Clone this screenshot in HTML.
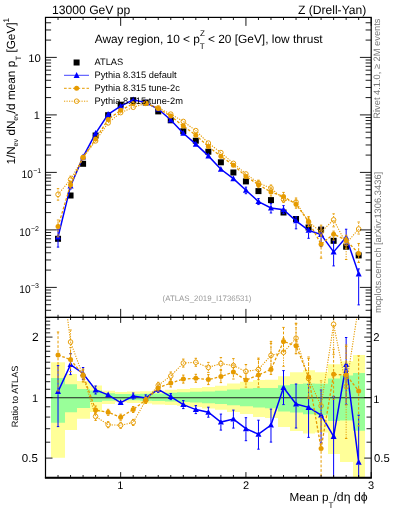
<!DOCTYPE html><html><head><meta charset="utf-8"><style>html,body{margin:0;padding:0;background:#fff;}svg{display:block;will-change:transform;}text{font-family:"Liberation Sans",sans-serif;text-rendering:geometricPrecision;}</style></head><body>
<svg width="393" height="512" viewBox="0 0 393 512">
<defs><clipPath id="cm"><rect x="45.5" y="17.4" width="325.7" height="300"/></clipPath><clipPath id="cr"><rect x="45.5" y="317.4" width="325.7" height="160.2"/></clipPath></defs>
<g clip-path="url(#cr)">
<path d="M51 362.3H65V374H77V381H90V385.5H102V390.7H115V391.9H127V391.6H140V391.2H152V390.7H165V389.7H177V389H190V388.1H202V387H215V385.8H227V383.6H240V381.7H253V380H265V379.8H278V376.3H290V372.3H303V370.3H315V372.2H328V364.3H340V361.3H353V355.1H365V477.6H353V462H340V454H328V432.5H315V433.5H303V431H290V427H278V418H265V417H253V414H240V412.1H227V409.8H215V408.6H202V407H190V405.7H177V404.9H165V404.5H152V403.6H140V403.1H127V402.3H115V404H102V412H90V418.7H77V430H65V457.7H51Z" fill="#ffff99"/>
<path d="M51 378H65V384.2H77V388.9H90V390.4H102V393.2H115V394H127V394H140V393.7H152V393.6H165V392.7H177V392.3H190V391.8H202V391.4H215V390.7H227V389.5H240V388.5H253V388H265V388H278V385.2H290V384H303V383.5H315V383.7H328V378.6H340V375.5H353V373H365V430.7H353V420.5H340V421H328V415.2H315V414.3H303V412.5H290V411.5H278V408.2H265V407.4H253V406.2H240V405.2H227V404H215V403.2H202V402.4H190V402.1H177V401.6H165V401H152V400.7H140V400.2H127V399.8H115V400.7H102V401.9H90V408H77V412.2H65V422.8H51Z" fill="#99ff99"/>
<line x1="45.5" y1="397.7" x2="371.2" y2="397.7" stroke="#222" stroke-width="1.1"/>
</g>
<g clip-path="url(#cr)">
<path d="M58.03 389V365.6" stroke="#0000ff" stroke-width="1" />
<path d="M58.03 394.2V426.6" stroke="#0000ff" stroke-width="1" />
<path d="M56.83 365.6H59.23" stroke="#0000ff" stroke-width="1"/>
<path d="M56.83 426.6H59.23" stroke="#0000ff" stroke-width="1"/>
<path d="M70.55 362V353.6" stroke="#0000ff" stroke-width="1" />
<path d="M70.55 367.2V374.6" stroke="#0000ff" stroke-width="1" />
<path d="M69.35 353.6H71.75" stroke="#0000ff" stroke-width="1"/>
<path d="M69.35 374.6H71.75" stroke="#0000ff" stroke-width="1"/>
<path d="M83.08 370.9V367.5" stroke="#0000ff" stroke-width="1" />
<path d="M83.08 376.1V379.5" stroke="#0000ff" stroke-width="1" />
<path d="M81.88 367.5H84.28" stroke="#0000ff" stroke-width="1"/>
<path d="M81.88 379.5H84.28" stroke="#0000ff" stroke-width="1"/>
<path d="M95.61 387.4V386" stroke="#0000ff" stroke-width="1" />
<path d="M95.61 392.6V394" stroke="#0000ff" stroke-width="1" />
<path d="M94.41 386H96.81" stroke="#0000ff" stroke-width="1"/>
<path d="M94.41 394H96.81" stroke="#0000ff" stroke-width="1"/>
<path d="M133.19 393.4V393" stroke="#0000ff" stroke-width="1" />
<path d="M133.19 398.6V399" stroke="#0000ff" stroke-width="1" />
<path d="M131.99 393H134.39" stroke="#0000ff" stroke-width="1"/>
<path d="M131.99 399H134.39" stroke="#0000ff" stroke-width="1"/>
<path d="M145.72 395.3V394.9" stroke="#0000ff" stroke-width="1" />
<path d="M145.72 400.5V400.9" stroke="#0000ff" stroke-width="1" />
<path d="M144.52 394.9H146.92" stroke="#0000ff" stroke-width="1"/>
<path d="M144.52 400.9H146.92" stroke="#0000ff" stroke-width="1"/>
<path d="M158.24 386.7V386.3" stroke="#0000ff" stroke-width="1" />
<path d="M158.24 391.9V392.3" stroke="#0000ff" stroke-width="1" />
<path d="M157.04 386.3H159.44" stroke="#0000ff" stroke-width="1"/>
<path d="M157.04 392.3H159.44" stroke="#0000ff" stroke-width="1"/>
<path d="M170.77 394V393.6" stroke="#0000ff" stroke-width="1" />
<path d="M170.77 399.2V399.6" stroke="#0000ff" stroke-width="1" />
<path d="M169.57 393.6H171.97" stroke="#0000ff" stroke-width="1"/>
<path d="M169.57 399.6H171.97" stroke="#0000ff" stroke-width="1"/>
<path d="M183.3 402V400.6" stroke="#0000ff" stroke-width="1" />
<path d="M183.3 407.2V408.6" stroke="#0000ff" stroke-width="1" />
<path d="M182.1 400.6H184.5" stroke="#0000ff" stroke-width="1"/>
<path d="M182.1 408.6H184.5" stroke="#0000ff" stroke-width="1"/>
<path d="M195.82 407V405.6" stroke="#0000ff" stroke-width="1" />
<path d="M195.82 412.2V413.6" stroke="#0000ff" stroke-width="1" />
<path d="M194.62 405.6H197.02" stroke="#0000ff" stroke-width="1"/>
<path d="M194.62 413.6H197.02" stroke="#0000ff" stroke-width="1"/>
<path d="M208.35 409.6V407.2" stroke="#0000ff" stroke-width="1" />
<path d="M208.35 414.8V417.2" stroke="#0000ff" stroke-width="1" />
<path d="M207.15 407.2H209.55" stroke="#0000ff" stroke-width="1"/>
<path d="M207.15 417.2H209.55" stroke="#0000ff" stroke-width="1"/>
<path d="M220.88 419.5V414.1" stroke="#0000ff" stroke-width="1" />
<path d="M220.88 424.7V430.1" stroke="#0000ff" stroke-width="1" />
<path d="M219.68 414.1H222.08" stroke="#0000ff" stroke-width="1"/>
<path d="M219.68 430.1H222.08" stroke="#0000ff" stroke-width="1"/>
<path d="M233.4 416.5V410.1" stroke="#0000ff" stroke-width="1" />
<path d="M233.4 421.7V428.1" stroke="#0000ff" stroke-width="1" />
<path d="M232.2 410.1H234.6" stroke="#0000ff" stroke-width="1"/>
<path d="M232.2 428.1H234.6" stroke="#0000ff" stroke-width="1"/>
<path d="M245.93 426.1V417.7" stroke="#0000ff" stroke-width="1" />
<path d="M245.93 431.3V440.7" stroke="#0000ff" stroke-width="1" />
<path d="M244.73 417.7H247.13" stroke="#0000ff" stroke-width="1"/>
<path d="M244.73 440.7H247.13" stroke="#0000ff" stroke-width="1"/>
<path d="M258.46 431.6V420.2" stroke="#0000ff" stroke-width="1" />
<path d="M258.46 436.8V449.2" stroke="#0000ff" stroke-width="1" />
<path d="M257.26 420.2H259.66" stroke="#0000ff" stroke-width="1"/>
<path d="M257.26 449.2H259.66" stroke="#0000ff" stroke-width="1"/>
<path d="M270.98 422.5V409.1" stroke="#0000ff" stroke-width="1" />
<path d="M270.98 427.7V442.1" stroke="#0000ff" stroke-width="1" />
<path d="M269.78 409.1H272.18" stroke="#0000ff" stroke-width="1"/>
<path d="M269.78 442.1H272.18" stroke="#0000ff" stroke-width="1"/>
<path d="M283.51 385V370.6" stroke="#0000ff" stroke-width="1" />
<path d="M283.51 390.2V404.6" stroke="#0000ff" stroke-width="1" />
<path d="M282.31 370.6H284.71" stroke="#0000ff" stroke-width="1"/>
<path d="M282.31 404.6H284.71" stroke="#0000ff" stroke-width="1"/>
<path d="M296.04 401.4V384" stroke="#0000ff" stroke-width="1" />
<path d="M296.04 406.6V428" stroke="#0000ff" stroke-width="1" />
<path d="M294.84 384H297.24" stroke="#0000ff" stroke-width="1"/>
<path d="M294.84 428H297.24" stroke="#0000ff" stroke-width="1"/>
<path d="M308.57 404.8V384.4" stroke="#0000ff" stroke-width="1" />
<path d="M308.57 410V437.4" stroke="#0000ff" stroke-width="1" />
<path d="M307.37 384.4H309.77" stroke="#0000ff" stroke-width="1"/>
<path d="M307.37 437.4H309.77" stroke="#0000ff" stroke-width="1"/>
<path d="M321.09 412.4V390" stroke="#0000ff" stroke-width="1" />
<path d="M321.09 417.6V443" stroke="#0000ff" stroke-width="1" />
<path d="M319.89 390H322.29" stroke="#0000ff" stroke-width="1"/>
<path d="M319.89 443H322.29" stroke="#0000ff" stroke-width="1"/>
<path d="M333.62 433.8V396.4" stroke="#0000ff" stroke-width="1" />
<path d="M333.62 439V496.4" stroke="#0000ff" stroke-width="1" />
<path d="M332.42 396.4H334.82" stroke="#0000ff" stroke-width="1"/>
<path d="M332.42 496.4H334.82" stroke="#0000ff" stroke-width="1"/>
<path d="M346.15 361.9V337.5" stroke="#0000ff" stroke-width="1" />
<path d="M346.15 367.1V404.5" stroke="#0000ff" stroke-width="1" />
<path d="M344.95 337.5H347.35" stroke="#0000ff" stroke-width="1"/>
<path d="M344.95 404.5H347.35" stroke="#0000ff" stroke-width="1"/>
<path d="M358.67 459.6V415.2" stroke="#0000ff" stroke-width="1" />
<path d="M358.67 464.8V502.2" stroke="#0000ff" stroke-width="1" />
<path d="M357.47 415.2H359.87" stroke="#0000ff" stroke-width="1"/>
<path d="M357.47 502.2H359.87" stroke="#0000ff" stroke-width="1"/>
<polyline points="58.03,391.6 70.55,364.6 83.08,373.5 95.61,390 108.13,394.8 120.66,402.6 133.19,396 145.72,397.9 158.24,389.3 170.77,396.6 183.3,404.6 195.82,409.6 208.35,412.2 220.88,422.1 233.4,419.1 245.93,428.7 258.46,434.2 270.98,425.1 283.51,387.6 296.04,404 308.57,407.4 321.09,415 333.62,436.4 346.15,364.5 358.67,462.2" fill="none" stroke="#0000ff" stroke-width="1.5" />
<path d="M58.03 388.3L61.03 394.1L55.03 394.1Z" fill="#0000ff"/>
<path d="M70.55 361.3L73.55 367.1L67.55 367.1Z" fill="#0000ff"/>
<path d="M83.08 370.2L86.08 376L80.08 376Z" fill="#0000ff"/>
<path d="M95.61 386.7L98.61 392.5L92.61 392.5Z" fill="#0000ff"/>
<path d="M108.13 391.5L111.13 397.3L105.13 397.3Z" fill="#0000ff"/>
<path d="M120.66 399.3L123.66 405.1L117.66 405.1Z" fill="#0000ff"/>
<path d="M133.19 392.7L136.19 398.5L130.19 398.5Z" fill="#0000ff"/>
<path d="M145.72 394.6L148.72 400.4L142.72 400.4Z" fill="#0000ff"/>
<path d="M158.24 386L161.24 391.8L155.24 391.8Z" fill="#0000ff"/>
<path d="M170.77 393.3L173.77 399.1L167.77 399.1Z" fill="#0000ff"/>
<path d="M183.3 401.3L186.3 407.1L180.3 407.1Z" fill="#0000ff"/>
<path d="M195.82 406.3L198.82 412.1L192.82 412.1Z" fill="#0000ff"/>
<path d="M208.35 408.9L211.35 414.7L205.35 414.7Z" fill="#0000ff"/>
<path d="M220.88 418.8L223.88 424.6L217.88 424.6Z" fill="#0000ff"/>
<path d="M233.4 415.8L236.4 421.6L230.4 421.6Z" fill="#0000ff"/>
<path d="M245.93 425.4L248.93 431.2L242.93 431.2Z" fill="#0000ff"/>
<path d="M258.46 430.9L261.46 436.7L255.46 436.7Z" fill="#0000ff"/>
<path d="M270.98 421.8L273.98 427.6L267.98 427.6Z" fill="#0000ff"/>
<path d="M283.51 384.3L286.51 390.1L280.51 390.1Z" fill="#0000ff"/>
<path d="M296.04 400.7L299.04 406.5L293.04 406.5Z" fill="#0000ff"/>
<path d="M308.57 404.1L311.57 409.9L305.57 409.9Z" fill="#0000ff"/>
<path d="M321.09 411.7L324.09 417.5L318.09 417.5Z" fill="#0000ff"/>
<path d="M333.62 433.1L336.62 438.9L330.62 438.9Z" fill="#0000ff"/>
<path d="M346.15 361.2L349.15 367L343.15 367Z" fill="#0000ff"/>
<path d="M358.67 458.9L361.67 464.7L355.67 464.7Z" fill="#0000ff"/>
<path d="M58.03 352.4V332" stroke="#e69b00" stroke-width="1" stroke-dasharray="2.7,1.8"/>
<path d="M58.03 357.6V391" stroke="#e69b00" stroke-width="1" stroke-dasharray="2.7,1.8"/>
<path d="M56.83 332H59.23" stroke="#e69b00" stroke-width="1"/>
<path d="M56.83 391H59.23" stroke="#e69b00" stroke-width="1"/>
<path d="M70.55 357V347.6" stroke="#e69b00" stroke-width="1" stroke-dasharray="2.7,1.8"/>
<path d="M70.55 362.2V371.6" stroke="#e69b00" stroke-width="1" stroke-dasharray="2.7,1.8"/>
<path d="M69.35 347.6H71.75" stroke="#e69b00" stroke-width="1"/>
<path d="M69.35 371.6H71.75" stroke="#e69b00" stroke-width="1"/>
<path d="M83.08 372.4V369" stroke="#e69b00" stroke-width="1" stroke-dasharray="2.7,1.8"/>
<path d="M83.08 377.6V381" stroke="#e69b00" stroke-width="1" stroke-dasharray="2.7,1.8"/>
<path d="M81.88 369H84.28" stroke="#e69b00" stroke-width="1"/>
<path d="M81.88 381H84.28" stroke="#e69b00" stroke-width="1"/>
<path d="M95.61 407.4V406" stroke="#e69b00" stroke-width="1" stroke-dasharray="2.7,1.8"/>
<path d="M95.61 412.6V414" stroke="#e69b00" stroke-width="1" stroke-dasharray="2.7,1.8"/>
<path d="M94.41 406H96.81" stroke="#e69b00" stroke-width="1"/>
<path d="M94.41 414H96.81" stroke="#e69b00" stroke-width="1"/>
<path d="M108.13 409.7V409.3" stroke="#e69b00" stroke-width="1" stroke-dasharray="2.7,1.8"/>
<path d="M108.13 414.9V415.3" stroke="#e69b00" stroke-width="1" stroke-dasharray="2.7,1.8"/>
<path d="M106.93 409.3H109.33" stroke="#e69b00" stroke-width="1"/>
<path d="M106.93 415.3H109.33" stroke="#e69b00" stroke-width="1"/>
<path d="M120.66 414.6V414.2" stroke="#e69b00" stroke-width="1" stroke-dasharray="2.7,1.8"/>
<path d="M120.66 419.8V420.2" stroke="#e69b00" stroke-width="1" stroke-dasharray="2.7,1.8"/>
<path d="M119.46 414.2H121.86" stroke="#e69b00" stroke-width="1"/>
<path d="M119.46 420.2H121.86" stroke="#e69b00" stroke-width="1"/>
<path d="M133.19 406.9V406.5" stroke="#e69b00" stroke-width="1" stroke-dasharray="2.7,1.8"/>
<path d="M133.19 412.1V412.5" stroke="#e69b00" stroke-width="1" stroke-dasharray="2.7,1.8"/>
<path d="M131.99 406.5H134.39" stroke="#e69b00" stroke-width="1"/>
<path d="M131.99 412.5H134.39" stroke="#e69b00" stroke-width="1"/>
<path d="M145.72 397.5V397.1" stroke="#e69b00" stroke-width="1" stroke-dasharray="2.7,1.8"/>
<path d="M145.72 402.7V403.1" stroke="#e69b00" stroke-width="1" stroke-dasharray="2.7,1.8"/>
<path d="M144.52 397.1H146.92" stroke="#e69b00" stroke-width="1"/>
<path d="M144.52 403.1H146.92" stroke="#e69b00" stroke-width="1"/>
<path d="M158.24 385.3V384.9" stroke="#e69b00" stroke-width="1" stroke-dasharray="2.7,1.8"/>
<path d="M158.24 390.5V390.9" stroke="#e69b00" stroke-width="1" stroke-dasharray="2.7,1.8"/>
<path d="M157.04 384.9H159.44" stroke="#e69b00" stroke-width="1"/>
<path d="M157.04 390.9H159.44" stroke="#e69b00" stroke-width="1"/>
<path d="M170.77 380.4V379" stroke="#e69b00" stroke-width="1" stroke-dasharray="2.7,1.8"/>
<path d="M170.77 385.6V387" stroke="#e69b00" stroke-width="1" stroke-dasharray="2.7,1.8"/>
<path d="M169.57 379H171.97" stroke="#e69b00" stroke-width="1"/>
<path d="M169.57 387H171.97" stroke="#e69b00" stroke-width="1"/>
<path d="M183.3 376.5V375.1" stroke="#e69b00" stroke-width="1" stroke-dasharray="2.7,1.8"/>
<path d="M183.3 381.7V383.1" stroke="#e69b00" stroke-width="1" stroke-dasharray="2.7,1.8"/>
<path d="M182.1 375.1H184.5" stroke="#e69b00" stroke-width="1"/>
<path d="M182.1 383.1H184.5" stroke="#e69b00" stroke-width="1"/>
<path d="M195.82 375.7V374.3" stroke="#e69b00" stroke-width="1" stroke-dasharray="2.7,1.8"/>
<path d="M195.82 380.9V382.3" stroke="#e69b00" stroke-width="1" stroke-dasharray="2.7,1.8"/>
<path d="M194.62 374.3H197.02" stroke="#e69b00" stroke-width="1"/>
<path d="M194.62 382.3H197.02" stroke="#e69b00" stroke-width="1"/>
<path d="M208.35 377V374.6" stroke="#e69b00" stroke-width="1" stroke-dasharray="2.7,1.8"/>
<path d="M208.35 382.2V384.6" stroke="#e69b00" stroke-width="1" stroke-dasharray="2.7,1.8"/>
<path d="M207.15 374.6H209.55" stroke="#e69b00" stroke-width="1"/>
<path d="M207.15 384.6H209.55" stroke="#e69b00" stroke-width="1"/>
<path d="M220.88 374V370.6" stroke="#e69b00" stroke-width="1" stroke-dasharray="2.7,1.8"/>
<path d="M220.88 379.2V382.6" stroke="#e69b00" stroke-width="1" stroke-dasharray="2.7,1.8"/>
<path d="M219.68 370.6H222.08" stroke="#e69b00" stroke-width="1"/>
<path d="M219.68 382.6H222.08" stroke="#e69b00" stroke-width="1"/>
<path d="M233.4 369.4V365" stroke="#e69b00" stroke-width="1" stroke-dasharray="2.7,1.8"/>
<path d="M233.4 374.6V379" stroke="#e69b00" stroke-width="1" stroke-dasharray="2.7,1.8"/>
<path d="M232.2 365H234.6" stroke="#e69b00" stroke-width="1"/>
<path d="M232.2 379H234.6" stroke="#e69b00" stroke-width="1"/>
<path d="M245.93 377.5V373.1" stroke="#e69b00" stroke-width="1" stroke-dasharray="2.7,1.8"/>
<path d="M245.93 382.7V387.1" stroke="#e69b00" stroke-width="1" stroke-dasharray="2.7,1.8"/>
<path d="M244.73 373.1H247.13" stroke="#e69b00" stroke-width="1"/>
<path d="M244.73 387.1H247.13" stroke="#e69b00" stroke-width="1"/>
<path d="M258.46 372.5V358.1" stroke="#e69b00" stroke-width="1" stroke-dasharray="2.7,1.8"/>
<path d="M258.46 377.7V387.1" stroke="#e69b00" stroke-width="1" stroke-dasharray="2.7,1.8"/>
<path d="M257.26 358.1H259.66" stroke="#e69b00" stroke-width="1"/>
<path d="M257.26 387.1H259.66" stroke="#e69b00" stroke-width="1"/>
<path d="M270.98 366.8V341.4" stroke="#e69b00" stroke-width="1" stroke-dasharray="2.7,1.8"/>
<path d="M270.98 372V374.4" stroke="#e69b00" stroke-width="1" stroke-dasharray="2.7,1.8"/>
<path d="M269.78 341.4H272.18" stroke="#e69b00" stroke-width="1"/>
<path d="M269.78 374.4H272.18" stroke="#e69b00" stroke-width="1"/>
<path d="M283.51 338.8V327.4" stroke="#e69b00" stroke-width="1" stroke-dasharray="2.7,1.8"/>
<path d="M283.51 344V351.4" stroke="#e69b00" stroke-width="1" stroke-dasharray="2.7,1.8"/>
<path d="M282.31 327.4H284.71" stroke="#e69b00" stroke-width="1"/>
<path d="M282.31 351.4H284.71" stroke="#e69b00" stroke-width="1"/>
<path d="M296.04 343.2V323.8" stroke="#e69b00" stroke-width="1" stroke-dasharray="2.7,1.8"/>
<path d="M296.04 348.4V353.8" stroke="#e69b00" stroke-width="1" stroke-dasharray="2.7,1.8"/>
<path d="M294.84 323.8H297.24" stroke="#e69b00" stroke-width="1"/>
<path d="M294.84 353.8H297.24" stroke="#e69b00" stroke-width="1"/>
<path d="M308.57 374.4V357" stroke="#e69b00" stroke-width="1" stroke-dasharray="2.7,1.8"/>
<path d="M308.57 379.6V397" stroke="#e69b00" stroke-width="1" stroke-dasharray="2.7,1.8"/>
<path d="M307.37 357H309.77" stroke="#e69b00" stroke-width="1"/>
<path d="M307.37 397H309.77" stroke="#e69b00" stroke-width="1"/>
<path d="M321.09 445.9V418.5" stroke="#e69b00" stroke-width="1" stroke-dasharray="2.7,1.8"/>
<path d="M321.09 451.1V488.5" stroke="#e69b00" stroke-width="1" stroke-dasharray="2.7,1.8"/>
<path d="M319.89 418.5H322.29" stroke="#e69b00" stroke-width="1"/>
<path d="M319.89 488.5H322.29" stroke="#e69b00" stroke-width="1"/>
<path d="M333.62 371.7V349.3" stroke="#e69b00" stroke-width="1" stroke-dasharray="2.7,1.8"/>
<path d="M333.62 376.9V399.3" stroke="#e69b00" stroke-width="1" stroke-dasharray="2.7,1.8"/>
<path d="M332.42 349.3H334.82" stroke="#e69b00" stroke-width="1"/>
<path d="M332.42 399.3H334.82" stroke="#e69b00" stroke-width="1"/>
<path d="M346.15 372.4V345" stroke="#e69b00" stroke-width="1" stroke-dasharray="2.7,1.8"/>
<path d="M346.15 377.6V405" stroke="#e69b00" stroke-width="1" stroke-dasharray="2.7,1.8"/>
<path d="M344.95 345H347.35" stroke="#e69b00" stroke-width="1"/>
<path d="M344.95 405H347.35" stroke="#e69b00" stroke-width="1"/>
<path d="M358.67 388.3V355.9" stroke="#e69b00" stroke-width="1" stroke-dasharray="2.7,1.8"/>
<path d="M358.67 393.5V425.9" stroke="#e69b00" stroke-width="1" stroke-dasharray="2.7,1.8"/>
<path d="M357.47 355.9H359.87" stroke="#e69b00" stroke-width="1"/>
<path d="M357.47 425.9H359.87" stroke="#e69b00" stroke-width="1"/>
<polyline points="58.03,355 70.55,359.6 83.08,375 95.61,410 108.13,412.3 120.66,417.2 133.19,409.5 145.72,400.1 158.24,387.9 170.77,383 183.3,379.1 195.82,378.3 208.35,379.6 220.88,376.6 233.4,372 245.93,380.1 258.46,375.1 270.98,369.4 283.51,341.4 296.04,345.8 308.57,377 321.09,448.5 333.62,374.3 346.15,375 358.67,390.9" fill="none" stroke="#e69b00" stroke-width="1.3" stroke-dasharray="2.7,1.8"/>
<circle cx="58.03" cy="355" r="2.5" fill="#e69b00"/>
<circle cx="70.55" cy="359.6" r="2.5" fill="#e69b00"/>
<circle cx="83.08" cy="375" r="2.5" fill="#e69b00"/>
<circle cx="95.61" cy="410" r="2.5" fill="#e69b00"/>
<circle cx="108.13" cy="412.3" r="2.5" fill="#e69b00"/>
<circle cx="120.66" cy="417.2" r="2.5" fill="#e69b00"/>
<circle cx="133.19" cy="409.5" r="2.5" fill="#e69b00"/>
<circle cx="145.72" cy="400.1" r="2.5" fill="#e69b00"/>
<circle cx="158.24" cy="387.9" r="2.5" fill="#e69b00"/>
<circle cx="170.77" cy="383" r="2.5" fill="#e69b00"/>
<circle cx="183.3" cy="379.1" r="2.5" fill="#e69b00"/>
<circle cx="195.82" cy="378.3" r="2.5" fill="#e69b00"/>
<circle cx="208.35" cy="379.6" r="2.5" fill="#e69b00"/>
<circle cx="220.88" cy="376.6" r="2.5" fill="#e69b00"/>
<circle cx="233.4" cy="372" r="2.5" fill="#e69b00"/>
<circle cx="245.93" cy="380.1" r="2.5" fill="#e69b00"/>
<circle cx="258.46" cy="375.1" r="2.5" fill="#e69b00"/>
<circle cx="270.98" cy="369.4" r="2.5" fill="#e69b00"/>
<circle cx="283.51" cy="341.4" r="2.5" fill="#e69b00"/>
<circle cx="296.04" cy="345.8" r="2.5" fill="#e69b00"/>
<circle cx="308.57" cy="377" r="2.5" fill="#e69b00"/>
<circle cx="321.09" cy="448.5" r="2.5" fill="#e69b00"/>
<circle cx="333.62" cy="374.3" r="2.5" fill="#e69b00"/>
<circle cx="346.15" cy="375" r="2.5" fill="#e69b00"/>
<circle cx="358.67" cy="390.9" r="2.5" fill="#e69b00"/>
<path d="M70.55 339.4V330" stroke="#e69b00" stroke-width="1" stroke-dasharray="1.2,1.3"/>
<path d="M70.55 344.6V354" stroke="#e69b00" stroke-width="1" stroke-dasharray="1.2,1.3"/>
<path d="M69.35 330H71.75" stroke="#e69b00" stroke-width="1"/>
<path d="M69.35 354H71.75" stroke="#e69b00" stroke-width="1"/>
<path d="M83.08 373.4V370" stroke="#e69b00" stroke-width="1" stroke-dasharray="1.2,1.3"/>
<path d="M83.08 378.6V382" stroke="#e69b00" stroke-width="1" stroke-dasharray="1.2,1.3"/>
<path d="M81.88 370H84.28" stroke="#e69b00" stroke-width="1"/>
<path d="M81.88 382H84.28" stroke="#e69b00" stroke-width="1"/>
<path d="M95.61 413.8V412.4" stroke="#e69b00" stroke-width="1" stroke-dasharray="1.2,1.3"/>
<path d="M95.61 419V420.4" stroke="#e69b00" stroke-width="1" stroke-dasharray="1.2,1.3"/>
<path d="M94.41 412.4H96.81" stroke="#e69b00" stroke-width="1"/>
<path d="M94.41 420.4H96.81" stroke="#e69b00" stroke-width="1"/>
<path d="M108.13 422.1V421.7" stroke="#e69b00" stroke-width="1" stroke-dasharray="1.2,1.3"/>
<path d="M108.13 427.3V427.7" stroke="#e69b00" stroke-width="1" stroke-dasharray="1.2,1.3"/>
<path d="M106.93 421.7H109.33" stroke="#e69b00" stroke-width="1"/>
<path d="M106.93 427.7H109.33" stroke="#e69b00" stroke-width="1"/>
<path d="M120.66 422.7V422.3" stroke="#e69b00" stroke-width="1" stroke-dasharray="1.2,1.3"/>
<path d="M120.66 427.9V428.3" stroke="#e69b00" stroke-width="1" stroke-dasharray="1.2,1.3"/>
<path d="M119.46 422.3H121.86" stroke="#e69b00" stroke-width="1"/>
<path d="M119.46 428.3H121.86" stroke="#e69b00" stroke-width="1"/>
<path d="M133.19 419.8V419.4" stroke="#e69b00" stroke-width="1" stroke-dasharray="1.2,1.3"/>
<path d="M133.19 425V425.4" stroke="#e69b00" stroke-width="1" stroke-dasharray="1.2,1.3"/>
<path d="M131.99 419.4H134.39" stroke="#e69b00" stroke-width="1"/>
<path d="M131.99 425.4H134.39" stroke="#e69b00" stroke-width="1"/>
<path d="M145.72 397.9V397.5" stroke="#e69b00" stroke-width="1" stroke-dasharray="1.2,1.3"/>
<path d="M145.72 403.1V403.5" stroke="#e69b00" stroke-width="1" stroke-dasharray="1.2,1.3"/>
<path d="M144.52 397.5H146.92" stroke="#e69b00" stroke-width="1"/>
<path d="M144.52 403.5H146.92" stroke="#e69b00" stroke-width="1"/>
<path d="M158.24 382.7V382.3" stroke="#e69b00" stroke-width="1" stroke-dasharray="1.2,1.3"/>
<path d="M158.24 387.9V388.3" stroke="#e69b00" stroke-width="1" stroke-dasharray="1.2,1.3"/>
<path d="M157.04 382.3H159.44" stroke="#e69b00" stroke-width="1"/>
<path d="M157.04 388.3H159.44" stroke="#e69b00" stroke-width="1"/>
<path d="M170.77 373.4V372" stroke="#e69b00" stroke-width="1" stroke-dasharray="1.2,1.3"/>
<path d="M170.77 378.6V380" stroke="#e69b00" stroke-width="1" stroke-dasharray="1.2,1.3"/>
<path d="M169.57 372H171.97" stroke="#e69b00" stroke-width="1"/>
<path d="M169.57 380H171.97" stroke="#e69b00" stroke-width="1"/>
<path d="M183.3 360.5V359.1" stroke="#e69b00" stroke-width="1" stroke-dasharray="1.2,1.3"/>
<path d="M183.3 365.7V367.1" stroke="#e69b00" stroke-width="1" stroke-dasharray="1.2,1.3"/>
<path d="M182.1 359.1H184.5" stroke="#e69b00" stroke-width="1"/>
<path d="M182.1 367.1H184.5" stroke="#e69b00" stroke-width="1"/>
<path d="M195.82 359.7V358.3" stroke="#e69b00" stroke-width="1" stroke-dasharray="1.2,1.3"/>
<path d="M195.82 364.9V366.3" stroke="#e69b00" stroke-width="1" stroke-dasharray="1.2,1.3"/>
<path d="M194.62 358.3H197.02" stroke="#e69b00" stroke-width="1"/>
<path d="M194.62 366.3H197.02" stroke="#e69b00" stroke-width="1"/>
<path d="M208.35 364.8V362.4" stroke="#e69b00" stroke-width="1" stroke-dasharray="1.2,1.3"/>
<path d="M208.35 370V372.4" stroke="#e69b00" stroke-width="1" stroke-dasharray="1.2,1.3"/>
<path d="M207.15 362.4H209.55" stroke="#e69b00" stroke-width="1"/>
<path d="M207.15 372.4H209.55" stroke="#e69b00" stroke-width="1"/>
<path d="M220.88 361V357.6" stroke="#e69b00" stroke-width="1" stroke-dasharray="1.2,1.3"/>
<path d="M220.88 366.2V369.6" stroke="#e69b00" stroke-width="1" stroke-dasharray="1.2,1.3"/>
<path d="M219.68 357.6H222.08" stroke="#e69b00" stroke-width="1"/>
<path d="M219.68 369.6H222.08" stroke="#e69b00" stroke-width="1"/>
<path d="M233.4 363V358.6" stroke="#e69b00" stroke-width="1" stroke-dasharray="1.2,1.3"/>
<path d="M233.4 368.2V372.6" stroke="#e69b00" stroke-width="1" stroke-dasharray="1.2,1.3"/>
<path d="M232.2 358.6H234.6" stroke="#e69b00" stroke-width="1"/>
<path d="M232.2 372.6H234.6" stroke="#e69b00" stroke-width="1"/>
<path d="M245.93 368.9V364.5" stroke="#e69b00" stroke-width="1" stroke-dasharray="1.2,1.3"/>
<path d="M245.93 374.1V378.5" stroke="#e69b00" stroke-width="1" stroke-dasharray="1.2,1.3"/>
<path d="M244.73 364.5H247.13" stroke="#e69b00" stroke-width="1"/>
<path d="M244.73 378.5H247.13" stroke="#e69b00" stroke-width="1"/>
<path d="M258.46 366.8V359.4" stroke="#e69b00" stroke-width="1" stroke-dasharray="1.2,1.3"/>
<path d="M258.46 372V379.4" stroke="#e69b00" stroke-width="1" stroke-dasharray="1.2,1.3"/>
<path d="M257.26 359.4H259.66" stroke="#e69b00" stroke-width="1"/>
<path d="M257.26 379.4H259.66" stroke="#e69b00" stroke-width="1"/>
<path d="M270.98 352.8V343.4" stroke="#e69b00" stroke-width="1" stroke-dasharray="1.2,1.3"/>
<path d="M270.98 358V367.4" stroke="#e69b00" stroke-width="1" stroke-dasharray="1.2,1.3"/>
<path d="M269.78 343.4H272.18" stroke="#e69b00" stroke-width="1"/>
<path d="M269.78 367.4H272.18" stroke="#e69b00" stroke-width="1"/>
<path d="M283.51 349.7V338.3" stroke="#e69b00" stroke-width="1" stroke-dasharray="1.2,1.3"/>
<path d="M283.51 354.9V366.3" stroke="#e69b00" stroke-width="1" stroke-dasharray="1.2,1.3"/>
<path d="M282.31 338.3H284.71" stroke="#e69b00" stroke-width="1"/>
<path d="M282.31 366.3H284.71" stroke="#e69b00" stroke-width="1"/>
<path d="M296.04 335.6V323.2" stroke="#e69b00" stroke-width="1" stroke-dasharray="1.2,1.3"/>
<path d="M296.04 340.8V353.2" stroke="#e69b00" stroke-width="1" stroke-dasharray="1.2,1.3"/>
<path d="M294.84 323.2H297.24" stroke="#e69b00" stroke-width="1"/>
<path d="M294.84 353.2H297.24" stroke="#e69b00" stroke-width="1"/>
<path d="M308.57 376V358.6" stroke="#e69b00" stroke-width="1" stroke-dasharray="1.2,1.3"/>
<path d="M308.57 381.2V398.6" stroke="#e69b00" stroke-width="1" stroke-dasharray="1.2,1.3"/>
<path d="M307.37 358.6H309.77" stroke="#e69b00" stroke-width="1"/>
<path d="M307.37 398.6H309.77" stroke="#e69b00" stroke-width="1"/>
<path d="M321.09 403.3V380.9" stroke="#e69b00" stroke-width="1" stroke-dasharray="1.2,1.3"/>
<path d="M321.09 408.5V430.9" stroke="#e69b00" stroke-width="1" stroke-dasharray="1.2,1.3"/>
<path d="M319.89 380.9H322.29" stroke="#e69b00" stroke-width="1"/>
<path d="M319.89 430.9H322.29" stroke="#e69b00" stroke-width="1"/>
<path d="M333.62 321.7V294.3" stroke="#e69b00" stroke-width="1" stroke-dasharray="1.2,1.3"/>
<path d="M333.62 326.9V354.3" stroke="#e69b00" stroke-width="1" stroke-dasharray="1.2,1.3"/>
<path d="M332.42 294.3H334.82" stroke="#e69b00" stroke-width="1"/>
<path d="M332.42 354.3H334.82" stroke="#e69b00" stroke-width="1"/>
<path d="M346.15 383.9V346.5" stroke="#e69b00" stroke-width="1" stroke-dasharray="1.2,1.3"/>
<path d="M346.15 389.1V438.5" stroke="#e69b00" stroke-width="1" stroke-dasharray="1.2,1.3"/>
<path d="M344.95 346.5H347.35" stroke="#e69b00" stroke-width="1"/>
<path d="M344.95 438.5H347.35" stroke="#e69b00" stroke-width="1"/>
<polyline points="58.03,242.41 70.55,342 83.08,376 95.61,416.4 108.13,424.7 120.66,425.3 133.19,422.4 145.72,400.5 158.24,385.3 170.77,376 183.3,363.1 195.82,362.3 208.35,367.4 220.88,363.6 233.4,365.6 245.93,371.5 258.46,369.4 270.98,355.4 283.51,352.3 296.04,338.2 308.57,378.6 321.09,405.9 333.62,324.3 346.15,386.5 358.67,305.33" fill="none" stroke="#e69b00" stroke-width="1.1" stroke-dasharray="1.2,1.3"/>
<circle cx="70.55" cy="342" r="2.3" fill="none" stroke="#e69b00" stroke-width="0.95"/>
<circle cx="83.08" cy="376" r="2.3" fill="none" stroke="#e69b00" stroke-width="0.95"/>
<circle cx="95.61" cy="416.4" r="2.3" fill="none" stroke="#e69b00" stroke-width="0.95"/>
<circle cx="108.13" cy="424.7" r="2.3" fill="none" stroke="#e69b00" stroke-width="0.95"/>
<circle cx="120.66" cy="425.3" r="2.3" fill="none" stroke="#e69b00" stroke-width="0.95"/>
<circle cx="133.19" cy="422.4" r="2.3" fill="none" stroke="#e69b00" stroke-width="0.95"/>
<circle cx="145.72" cy="400.5" r="2.3" fill="none" stroke="#e69b00" stroke-width="0.95"/>
<circle cx="158.24" cy="385.3" r="2.3" fill="none" stroke="#e69b00" stroke-width="0.95"/>
<circle cx="170.77" cy="376" r="2.3" fill="none" stroke="#e69b00" stroke-width="0.95"/>
<circle cx="183.3" cy="363.1" r="2.3" fill="none" stroke="#e69b00" stroke-width="0.95"/>
<circle cx="195.82" cy="362.3" r="2.3" fill="none" stroke="#e69b00" stroke-width="0.95"/>
<circle cx="208.35" cy="367.4" r="2.3" fill="none" stroke="#e69b00" stroke-width="0.95"/>
<circle cx="220.88" cy="363.6" r="2.3" fill="none" stroke="#e69b00" stroke-width="0.95"/>
<circle cx="233.4" cy="365.6" r="2.3" fill="none" stroke="#e69b00" stroke-width="0.95"/>
<circle cx="245.93" cy="371.5" r="2.3" fill="none" stroke="#e69b00" stroke-width="0.95"/>
<circle cx="258.46" cy="369.4" r="2.3" fill="none" stroke="#e69b00" stroke-width="0.95"/>
<circle cx="270.98" cy="355.4" r="2.3" fill="none" stroke="#e69b00" stroke-width="0.95"/>
<circle cx="283.51" cy="352.3" r="2.3" fill="none" stroke="#e69b00" stroke-width="0.95"/>
<circle cx="296.04" cy="338.2" r="2.3" fill="none" stroke="#e69b00" stroke-width="0.95"/>
<circle cx="308.57" cy="378.6" r="2.3" fill="none" stroke="#e69b00" stroke-width="0.95"/>
<circle cx="321.09" cy="405.9" r="2.3" fill="none" stroke="#e69b00" stroke-width="0.95"/>
<circle cx="333.62" cy="324.3" r="2.3" fill="none" stroke="#e69b00" stroke-width="0.95"/>
<circle cx="346.15" cy="386.5" r="2.3" fill="none" stroke="#e69b00" stroke-width="0.95"/>
</g>
<g clip-path="url(#cm)">
<rect x="55.03" y="235.8" width="6" height="6" fill="#000"/>
<rect x="67.55" y="192.5" width="6" height="6" fill="#000"/>
<rect x="80.08" y="160.8" width="6" height="6" fill="#000"/>
<rect x="92.61" y="132.5" width="6" height="6" fill="#000"/>
<rect x="105.13" y="112.2" width="6" height="6" fill="#000"/>
<rect x="117.66" y="101.7" width="6" height="6" fill="#000"/>
<rect x="130.19" y="97.2" width="6" height="6" fill="#000"/>
<rect x="142.72" y="99.5" width="6" height="6" fill="#000"/>
<rect x="155.24" y="108.4" width="6" height="6" fill="#000"/>
<rect x="167.77" y="117.3" width="6" height="6" fill="#000"/>
<rect x="180.3" y="128.3" width="6" height="6" fill="#000"/>
<rect x="192.82" y="137.7" width="6" height="6" fill="#000"/>
<rect x="205.35" y="148.7" width="6" height="6" fill="#000"/>
<rect x="217.88" y="159.3" width="6" height="6" fill="#000"/>
<rect x="230.4" y="169.5" width="6" height="6" fill="#000"/>
<rect x="242.93" y="178.4" width="6" height="6" fill="#000"/>
<rect x="255.46" y="188.1" width="6" height="6" fill="#000"/>
<rect x="267.98" y="197.1" width="6" height="6" fill="#000"/>
<rect x="280.51" y="209.5" width="6" height="6" fill="#000"/>
<rect x="293.04" y="216" width="6" height="6" fill="#000"/>
<rect x="305.57" y="224.5" width="6" height="6" fill="#000"/>
<rect x="318.09" y="226.6" width="6" height="6" fill="#000"/>
<rect x="330.62" y="237.8" width="6" height="6" fill="#000"/>
<rect x="343.15" y="243.7" width="6" height="6" fill="#000"/>
<rect x="355.67" y="252.4" width="6" height="6" fill="#000"/>
<path d="M58.03 234.48V229.64" stroke="#0000ff" stroke-width="1" />
<path d="M58.03 239.68V247.1" stroke="#0000ff" stroke-width="1" />
<path d="M56.83 229.64H59.23" stroke="#0000ff" stroke-width="1"/>
<path d="M56.83 247.1H59.23" stroke="#0000ff" stroke-width="1"/>
<path d="M70.55 183.46V182.91" stroke="#0000ff" stroke-width="1" />
<path d="M70.55 188.66V188.92" stroke="#0000ff" stroke-width="1" />
<path d="M69.35 182.91H71.75" stroke="#0000ff" stroke-width="1"/>
<path d="M69.35 188.92H71.75" stroke="#0000ff" stroke-width="1"/>
<path d="M245.93 187.7V187.15" stroke="#0000ff" stroke-width="1" />
<path d="M245.93 192.9V193.73" stroke="#0000ff" stroke-width="1" />
<path d="M244.73 187.15H247.13" stroke="#0000ff" stroke-width="1"/>
<path d="M244.73 193.73H247.13" stroke="#0000ff" stroke-width="1"/>
<path d="M258.46 198.97V198.57" stroke="#0000ff" stroke-width="1" />
<path d="M258.46 204.17V204.57" stroke="#0000ff" stroke-width="1" />
<path d="M257.26 198.57H259.66" stroke="#0000ff" stroke-width="1"/>
<path d="M257.26 204.57H259.66" stroke="#0000ff" stroke-width="1"/>
<path d="M270.98 205.37V203.57" stroke="#0000ff" stroke-width="1" />
<path d="M270.98 210.57V212.97" stroke="#0000ff" stroke-width="1" />
<path d="M269.78 203.57H272.18" stroke="#0000ff" stroke-width="1"/>
<path d="M269.78 212.97H272.18" stroke="#0000ff" stroke-width="1"/>
<path d="M283.51 207.04V205.64" stroke="#0000ff" stroke-width="1" />
<path d="M283.51 212.24V213.64" stroke="#0000ff" stroke-width="1" />
<path d="M282.31 205.64H284.71" stroke="#0000ff" stroke-width="1"/>
<path d="M282.31 213.64H284.71" stroke="#0000ff" stroke-width="1"/>
<path d="M296.04 218.23V216.83" stroke="#0000ff" stroke-width="1" />
<path d="M296.04 223.43V228.83" stroke="#0000ff" stroke-width="1" />
<path d="M294.84 216.83H297.24" stroke="#0000ff" stroke-width="1"/>
<path d="M294.84 228.83H297.24" stroke="#0000ff" stroke-width="1"/>
<path d="M308.57 227.7V224.3" stroke="#0000ff" stroke-width="1" />
<path d="M308.57 232.9V238.3" stroke="#0000ff" stroke-width="1" />
<path d="M307.37 224.3H309.77" stroke="#0000ff" stroke-width="1"/>
<path d="M307.37 238.3H309.77" stroke="#0000ff" stroke-width="1"/>
<path d="M321.09 231.98V227.58" stroke="#0000ff" stroke-width="1" />
<path d="M321.09 237.18V246.58" stroke="#0000ff" stroke-width="1" />
<path d="M319.89 227.58H322.29" stroke="#0000ff" stroke-width="1"/>
<path d="M319.89 246.58H322.29" stroke="#0000ff" stroke-width="1"/>
<path d="M333.62 249.3V240.9" stroke="#0000ff" stroke-width="1" />
<path d="M333.62 254.5V265.9" stroke="#0000ff" stroke-width="1" />
<path d="M332.42 240.9H334.82" stroke="#0000ff" stroke-width="1"/>
<path d="M332.42 265.9H334.82" stroke="#0000ff" stroke-width="1"/>
<path d="M346.15 234.63V229.23" stroke="#0000ff" stroke-width="1" />
<path d="M346.15 239.83V245.23" stroke="#0000ff" stroke-width="1" />
<path d="M344.95 229.23H347.35" stroke="#0000ff" stroke-width="1"/>
<path d="M344.95 245.23H347.35" stroke="#0000ff" stroke-width="1"/>
<path d="M358.67 271.28V268.88" stroke="#0000ff" stroke-width="1" />
<path d="M358.67 276.48V304.88" stroke="#0000ff" stroke-width="1" />
<path d="M357.47 268.88H359.87" stroke="#0000ff" stroke-width="1"/>
<path d="M357.47 304.88H359.87" stroke="#0000ff" stroke-width="1"/>
<polyline points="58.03,237.08 70.55,186.06 83.08,156.9 95.61,133.33 108.13,114.4 120.66,106.13 133.19,99.74 145.72,102.59 158.24,109.03 170.77,120.01 183.3,133.3 195.82,144.13 208.35,155.88 220.88,169.31 233.4,178.65 245.93,190.3 258.46,201.57 270.98,207.97 283.51,209.64 296.04,220.83 308.57,230.3 321.09,234.58 333.62,251.9 346.15,237.23 358.67,273.88" fill="none" stroke="#0000ff" stroke-width="1.5" />
<path d="M58.03 233.78L61.03 239.58L55.03 239.58Z" fill="#0000ff"/>
<path d="M70.55 182.76L73.55 188.56L67.55 188.56Z" fill="#0000ff"/>
<path d="M83.08 153.6L86.08 159.4L80.08 159.4Z" fill="#0000ff"/>
<path d="M95.61 130.03L98.61 135.83L92.61 135.83Z" fill="#0000ff"/>
<path d="M108.13 111.1L111.13 116.9L105.13 116.9Z" fill="#0000ff"/>
<path d="M120.66 102.83L123.66 108.63L117.66 108.63Z" fill="#0000ff"/>
<path d="M133.19 96.44L136.19 102.24L130.19 102.24Z" fill="#0000ff"/>
<path d="M145.72 99.29L148.72 105.09L142.72 105.09Z" fill="#0000ff"/>
<path d="M158.24 105.73L161.24 111.53L155.24 111.53Z" fill="#0000ff"/>
<path d="M170.77 116.71L173.77 122.51L167.77 122.51Z" fill="#0000ff"/>
<path d="M183.3 130L186.3 135.8L180.3 135.8Z" fill="#0000ff"/>
<path d="M195.82 140.83L198.82 146.63L192.82 146.63Z" fill="#0000ff"/>
<path d="M208.35 152.58L211.35 158.38L205.35 158.38Z" fill="#0000ff"/>
<path d="M220.88 166.01L223.88 171.81L217.88 171.81Z" fill="#0000ff"/>
<path d="M233.4 175.35L236.4 181.15L230.4 181.15Z" fill="#0000ff"/>
<path d="M245.93 187L248.93 192.8L242.93 192.8Z" fill="#0000ff"/>
<path d="M258.46 198.27L261.46 204.07L255.46 204.07Z" fill="#0000ff"/>
<path d="M270.98 204.67L273.98 210.47L267.98 210.47Z" fill="#0000ff"/>
<path d="M283.51 206.34L286.51 212.14L280.51 212.14Z" fill="#0000ff"/>
<path d="M296.04 217.53L299.04 223.33L293.04 223.33Z" fill="#0000ff"/>
<path d="M308.57 227L311.57 232.8L305.57 232.8Z" fill="#0000ff"/>
<path d="M321.09 231.28L324.09 237.08L318.09 237.08Z" fill="#0000ff"/>
<path d="M333.62 248.6L336.62 254.4L330.62 254.4Z" fill="#0000ff"/>
<path d="M346.15 233.93L349.15 239.73L343.15 239.73Z" fill="#0000ff"/>
<path d="M358.67 270.58L361.67 276.38L355.67 276.38Z" fill="#0000ff"/>
<path d="M58.03 224.01V220.03" stroke="#e69b00" stroke-width="1" stroke-dasharray="2.7,1.8"/>
<path d="M58.03 229.21V236.91" stroke="#e69b00" stroke-width="1" stroke-dasharray="2.7,1.8"/>
<path d="M56.83 220.03H59.23" stroke="#e69b00" stroke-width="1"/>
<path d="M56.83 236.91H59.23" stroke="#e69b00" stroke-width="1"/>
<path d="M70.55 182.03V181.19" stroke="#e69b00" stroke-width="1" stroke-dasharray="2.7,1.8"/>
<path d="M70.55 187.23V188.06" stroke="#e69b00" stroke-width="1" stroke-dasharray="2.7,1.8"/>
<path d="M69.35 181.19H71.75" stroke="#e69b00" stroke-width="1"/>
<path d="M69.35 188.06H71.75" stroke="#e69b00" stroke-width="1"/>
<path d="M258.46 182.06V181.66" stroke="#e69b00" stroke-width="1" stroke-dasharray="2.7,1.8"/>
<path d="M258.46 187.26V187.66" stroke="#e69b00" stroke-width="1" stroke-dasharray="2.7,1.8"/>
<path d="M257.26 181.66H259.66" stroke="#e69b00" stroke-width="1"/>
<path d="M257.26 187.66H259.66" stroke="#e69b00" stroke-width="1"/>
<path d="M270.98 189.43V188.03" stroke="#e69b00" stroke-width="1" stroke-dasharray="2.7,1.8"/>
<path d="M270.98 194.63V196.03" stroke="#e69b00" stroke-width="1" stroke-dasharray="2.7,1.8"/>
<path d="M269.78 188.03H272.18" stroke="#e69b00" stroke-width="1"/>
<path d="M269.78 196.03H272.18" stroke="#e69b00" stroke-width="1"/>
<path d="M283.51 193.82V192.42" stroke="#e69b00" stroke-width="1" stroke-dasharray="2.7,1.8"/>
<path d="M283.51 199.02V200.42" stroke="#e69b00" stroke-width="1" stroke-dasharray="2.7,1.8"/>
<path d="M282.31 192.42H284.71" stroke="#e69b00" stroke-width="1"/>
<path d="M282.31 200.42H284.71" stroke="#e69b00" stroke-width="1"/>
<path d="M296.04 201.58V200.18" stroke="#e69b00" stroke-width="1" stroke-dasharray="2.7,1.8"/>
<path d="M296.04 206.78V208.18" stroke="#e69b00" stroke-width="1" stroke-dasharray="2.7,1.8"/>
<path d="M294.84 200.18H297.24" stroke="#e69b00" stroke-width="1"/>
<path d="M294.84 208.18H297.24" stroke="#e69b00" stroke-width="1"/>
<path d="M308.57 219.01V216.61" stroke="#e69b00" stroke-width="1" stroke-dasharray="2.7,1.8"/>
<path d="M308.57 224.21V226.61" stroke="#e69b00" stroke-width="1" stroke-dasharray="2.7,1.8"/>
<path d="M307.37 216.61H309.77" stroke="#e69b00" stroke-width="1"/>
<path d="M307.37 226.61H309.77" stroke="#e69b00" stroke-width="1"/>
<path d="M321.09 241.56V225.16" stroke="#e69b00" stroke-width="1" stroke-dasharray="2.7,1.8"/>
<path d="M321.09 246.76V258.16" stroke="#e69b00" stroke-width="1" stroke-dasharray="2.7,1.8"/>
<path d="M319.89 225.16H322.29" stroke="#e69b00" stroke-width="1"/>
<path d="M319.89 258.16H322.29" stroke="#e69b00" stroke-width="1"/>
<path d="M333.62 231.53V231.13" stroke="#e69b00" stroke-width="1" stroke-dasharray="2.7,1.8"/>
<path d="M333.62 236.73V240.13" stroke="#e69b00" stroke-width="1" stroke-dasharray="2.7,1.8"/>
<path d="M332.42 231.13H334.82" stroke="#e69b00" stroke-width="1"/>
<path d="M332.42 240.13H334.82" stroke="#e69b00" stroke-width="1"/>
<path d="M346.15 237.63V235.23" stroke="#e69b00" stroke-width="1" stroke-dasharray="2.7,1.8"/>
<path d="M346.15 242.83V248.23" stroke="#e69b00" stroke-width="1" stroke-dasharray="2.7,1.8"/>
<path d="M344.95 235.23H347.35" stroke="#e69b00" stroke-width="1"/>
<path d="M344.95 248.23H347.35" stroke="#e69b00" stroke-width="1"/>
<path d="M358.67 250.88V243.48" stroke="#e69b00" stroke-width="1" stroke-dasharray="2.7,1.8"/>
<path d="M358.67 256.08V262.48" stroke="#e69b00" stroke-width="1" stroke-dasharray="2.7,1.8"/>
<path d="M357.47 243.48H359.87" stroke="#e69b00" stroke-width="1"/>
<path d="M357.47 262.48H359.87" stroke="#e69b00" stroke-width="1"/>
<polyline points="58.03,226.61 70.55,184.63 83.08,157.33 95.61,139.05 108.13,119.41 120.66,110.31 133.19,103.6 145.72,103.22 158.24,108.62 170.77,116.12 183.3,126.01 195.82,135.18 208.35,146.55 220.88,156.29 233.4,165.18 245.93,176.39 258.46,184.66 270.98,192.03 283.51,196.42 296.04,204.18 308.57,221.61 321.09,244.16 333.62,234.13 346.15,240.23 358.67,253.48" fill="none" stroke="#e69b00" stroke-width="1.3" stroke-dasharray="2.7,1.8"/>
<circle cx="58.03" cy="226.61" r="2.5" fill="#e69b00"/>
<circle cx="70.55" cy="184.63" r="2.5" fill="#e69b00"/>
<circle cx="83.08" cy="157.33" r="2.5" fill="#e69b00"/>
<circle cx="95.61" cy="139.05" r="2.5" fill="#e69b00"/>
<circle cx="108.13" cy="119.41" r="2.5" fill="#e69b00"/>
<circle cx="120.66" cy="110.31" r="2.5" fill="#e69b00"/>
<circle cx="133.19" cy="103.6" r="2.5" fill="#e69b00"/>
<circle cx="145.72" cy="103.22" r="2.5" fill="#e69b00"/>
<circle cx="158.24" cy="108.62" r="2.5" fill="#e69b00"/>
<circle cx="170.77" cy="116.12" r="2.5" fill="#e69b00"/>
<circle cx="183.3" cy="126.01" r="2.5" fill="#e69b00"/>
<circle cx="195.82" cy="135.18" r="2.5" fill="#e69b00"/>
<circle cx="208.35" cy="146.55" r="2.5" fill="#e69b00"/>
<circle cx="220.88" cy="156.29" r="2.5" fill="#e69b00"/>
<circle cx="233.4" cy="165.18" r="2.5" fill="#e69b00"/>
<circle cx="245.93" cy="176.39" r="2.5" fill="#e69b00"/>
<circle cx="258.46" cy="184.66" r="2.5" fill="#e69b00"/>
<circle cx="270.98" cy="192.03" r="2.5" fill="#e69b00"/>
<circle cx="283.51" cy="196.42" r="2.5" fill="#e69b00"/>
<circle cx="296.04" cy="204.18" r="2.5" fill="#e69b00"/>
<circle cx="308.57" cy="221.61" r="2.5" fill="#e69b00"/>
<circle cx="321.09" cy="244.16" r="2.5" fill="#e69b00"/>
<circle cx="333.62" cy="234.13" r="2.5" fill="#e69b00"/>
<circle cx="346.15" cy="240.23" r="2.5" fill="#e69b00"/>
<circle cx="358.67" cy="253.48" r="2.5" fill="#e69b00"/>
<path d="M58.03 191.8V188.68" stroke="#e69b00" stroke-width="1" stroke-dasharray="1.2,1.3"/>
<path d="M58.03 197V200.12" stroke="#e69b00" stroke-width="1" stroke-dasharray="1.2,1.3"/>
<path d="M56.83 188.68H59.23" stroke="#e69b00" stroke-width="1"/>
<path d="M56.83 200.12H59.23" stroke="#e69b00" stroke-width="1"/>
<path d="M70.55 176.99V176.16" stroke="#e69b00" stroke-width="1" stroke-dasharray="1.2,1.3"/>
<path d="M70.55 182.19V183.03" stroke="#e69b00" stroke-width="1" stroke-dasharray="1.2,1.3"/>
<path d="M69.35 176.16H71.75" stroke="#e69b00" stroke-width="1"/>
<path d="M69.35 183.03H71.75" stroke="#e69b00" stroke-width="1"/>
<path d="M258.46 180.43V180.17" stroke="#e69b00" stroke-width="1" stroke-dasharray="1.2,1.3"/>
<path d="M258.46 185.63V185.89" stroke="#e69b00" stroke-width="1" stroke-dasharray="1.2,1.3"/>
<path d="M257.26 180.17H259.66" stroke="#e69b00" stroke-width="1"/>
<path d="M257.26 185.89H259.66" stroke="#e69b00" stroke-width="1"/>
<path d="M270.98 185.43V185.03" stroke="#e69b00" stroke-width="1" stroke-dasharray="1.2,1.3"/>
<path d="M270.98 190.63V191.03" stroke="#e69b00" stroke-width="1" stroke-dasharray="1.2,1.3"/>
<path d="M269.78 185.03H272.18" stroke="#e69b00" stroke-width="1"/>
<path d="M269.78 191.03H272.18" stroke="#e69b00" stroke-width="1"/>
<path d="M283.51 196.94V196.54" stroke="#e69b00" stroke-width="1" stroke-dasharray="1.2,1.3"/>
<path d="M283.51 202.14V202.54" stroke="#e69b00" stroke-width="1" stroke-dasharray="1.2,1.3"/>
<path d="M282.31 196.54H284.71" stroke="#e69b00" stroke-width="1"/>
<path d="M282.31 202.54H284.71" stroke="#e69b00" stroke-width="1"/>
<path d="M296.04 199.41V198.01" stroke="#e69b00" stroke-width="1" stroke-dasharray="1.2,1.3"/>
<path d="M296.04 204.61V206.01" stroke="#e69b00" stroke-width="1" stroke-dasharray="1.2,1.3"/>
<path d="M294.84 198.01H297.24" stroke="#e69b00" stroke-width="1"/>
<path d="M294.84 206.01H297.24" stroke="#e69b00" stroke-width="1"/>
<path d="M308.57 219.46V218.06" stroke="#e69b00" stroke-width="1" stroke-dasharray="1.2,1.3"/>
<path d="M308.57 224.66V226.06" stroke="#e69b00" stroke-width="1" stroke-dasharray="1.2,1.3"/>
<path d="M307.37 218.06H309.77" stroke="#e69b00" stroke-width="1"/>
<path d="M307.37 226.06H309.77" stroke="#e69b00" stroke-width="1"/>
<path d="M321.09 229.37V227.97" stroke="#e69b00" stroke-width="1" stroke-dasharray="1.2,1.3"/>
<path d="M321.09 234.57V235.97" stroke="#e69b00" stroke-width="1" stroke-dasharray="1.2,1.3"/>
<path d="M319.89 227.97H322.29" stroke="#e69b00" stroke-width="1"/>
<path d="M319.89 235.97H322.29" stroke="#e69b00" stroke-width="1"/>
<path d="M333.62 217.23V213.83" stroke="#e69b00" stroke-width="1" stroke-dasharray="1.2,1.3"/>
<path d="M333.62 222.43V226.83" stroke="#e69b00" stroke-width="1" stroke-dasharray="1.2,1.3"/>
<path d="M332.42 213.83H334.82" stroke="#e69b00" stroke-width="1"/>
<path d="M332.42 226.83H334.82" stroke="#e69b00" stroke-width="1"/>
<path d="M346.15 240.92V237.52" stroke="#e69b00" stroke-width="1" stroke-dasharray="1.2,1.3"/>
<path d="M346.15 246.12V259.52" stroke="#e69b00" stroke-width="1" stroke-dasharray="1.2,1.3"/>
<path d="M344.95 237.52H347.35" stroke="#e69b00" stroke-width="1"/>
<path d="M344.95 259.52H347.35" stroke="#e69b00" stroke-width="1"/>
<path d="M358.67 226.4V222" stroke="#e69b00" stroke-width="1" stroke-dasharray="1.2,1.3"/>
<path d="M358.67 231.6V234" stroke="#e69b00" stroke-width="1" stroke-dasharray="1.2,1.3"/>
<path d="M357.47 222H359.87" stroke="#e69b00" stroke-width="1"/>
<path d="M357.47 234H359.87" stroke="#e69b00" stroke-width="1"/>
<polyline points="58.03,194.4 70.55,179.59 83.08,157.62 95.61,140.88 108.13,122.95 120.66,112.63 133.19,107.3 145.72,103.33 158.24,107.88 170.77,114.12 183.3,121.43 195.82,130.6 208.35,143.06 220.88,152.57 233.4,163.34 245.93,173.93 258.46,183.03 270.98,188.03 283.51,199.54 296.04,202.01 308.57,222.06 321.09,231.97 333.62,219.83 346.15,243.52 358.67,229" fill="none" stroke="#e69b00" stroke-width="1.1" stroke-dasharray="1.2,1.3"/>
<circle cx="58.03" cy="194.4" r="2.3" fill="none" stroke="#e69b00" stroke-width="0.95"/>
<circle cx="70.55" cy="179.59" r="2.3" fill="none" stroke="#e69b00" stroke-width="0.95"/>
<circle cx="83.08" cy="157.62" r="2.3" fill="none" stroke="#e69b00" stroke-width="0.95"/>
<circle cx="95.61" cy="140.88" r="2.3" fill="none" stroke="#e69b00" stroke-width="0.95"/>
<circle cx="108.13" cy="122.95" r="2.3" fill="none" stroke="#e69b00" stroke-width="0.95"/>
<circle cx="120.66" cy="112.63" r="2.3" fill="none" stroke="#e69b00" stroke-width="0.95"/>
<circle cx="133.19" cy="107.3" r="2.3" fill="none" stroke="#e69b00" stroke-width="0.95"/>
<circle cx="145.72" cy="103.33" r="2.3" fill="none" stroke="#e69b00" stroke-width="0.95"/>
<circle cx="158.24" cy="107.88" r="2.3" fill="none" stroke="#e69b00" stroke-width="0.95"/>
<circle cx="170.77" cy="114.12" r="2.3" fill="none" stroke="#e69b00" stroke-width="0.95"/>
<circle cx="183.3" cy="121.43" r="2.3" fill="none" stroke="#e69b00" stroke-width="0.95"/>
<circle cx="195.82" cy="130.6" r="2.3" fill="none" stroke="#e69b00" stroke-width="0.95"/>
<circle cx="208.35" cy="143.06" r="2.3" fill="none" stroke="#e69b00" stroke-width="0.95"/>
<circle cx="220.88" cy="152.57" r="2.3" fill="none" stroke="#e69b00" stroke-width="0.95"/>
<circle cx="233.4" cy="163.34" r="2.3" fill="none" stroke="#e69b00" stroke-width="0.95"/>
<circle cx="245.93" cy="173.93" r="2.3" fill="none" stroke="#e69b00" stroke-width="0.95"/>
<circle cx="258.46" cy="183.03" r="2.3" fill="none" stroke="#e69b00" stroke-width="0.95"/>
<circle cx="270.98" cy="188.03" r="2.3" fill="none" stroke="#e69b00" stroke-width="0.95"/>
<circle cx="283.51" cy="199.54" r="2.3" fill="none" stroke="#e69b00" stroke-width="0.95"/>
<circle cx="296.04" cy="202.01" r="2.3" fill="none" stroke="#e69b00" stroke-width="0.95"/>
<circle cx="308.57" cy="222.06" r="2.3" fill="none" stroke="#e69b00" stroke-width="0.95"/>
<circle cx="321.09" cy="231.97" r="2.3" fill="none" stroke="#e69b00" stroke-width="0.95"/>
<circle cx="333.62" cy="219.83" r="2.3" fill="none" stroke="#e69b00" stroke-width="0.95"/>
<circle cx="346.15" cy="243.52" r="2.3" fill="none" stroke="#e69b00" stroke-width="0.95"/>
<circle cx="358.67" cy="229" r="2.3" fill="none" stroke="#e69b00" stroke-width="0.95"/>
</g>
<g fill="none" stroke="#000">
<rect x="45.5" y="17.4" width="325.7" height="300" stroke-width="1.2"/>
<rect x="45.5" y="317.4" width="325.7" height="160.2" stroke-width="1.2"/>
<line x1="44.9" y1="477.7" x2="371.8" y2="477.7" stroke-width="2"/>
</g>
<path d="M45.5 310.28h5.6M371.2 310.28h-5.6M45.5 304.71h5.6M371.2 304.71h-5.6M45.5 300.16h5.6M371.2 300.16h-5.6M45.5 296.31h5.6M371.2 296.31h-5.6M45.5 292.97h5.6M371.2 292.97h-5.6M45.5 290.03h5.6M371.2 290.03h-5.6M45.5 287.4h11.3M371.2 287.4h-11.3M45.5 270.09h5.6M371.2 270.09h-5.6M45.5 259.97h5.6M371.2 259.97h-5.6M45.5 252.78h5.6M371.2 252.78h-5.6M45.5 247.21h5.6M371.2 247.21h-5.6M45.5 242.66h5.6M371.2 242.66h-5.6M45.5 238.81h5.6M371.2 238.81h-5.6M45.5 235.47h5.6M371.2 235.47h-5.6M45.5 232.53h5.6M371.2 232.53h-5.6M45.5 229.9h11.3M371.2 229.9h-11.3M45.5 212.59h5.6M371.2 212.59h-5.6M45.5 202.47h5.6M371.2 202.47h-5.6M45.5 195.28h5.6M371.2 195.28h-5.6M45.5 189.71h5.6M371.2 189.71h-5.6M45.5 185.16h5.6M371.2 185.16h-5.6M45.5 181.31h5.6M371.2 181.31h-5.6M45.5 177.97h5.6M371.2 177.97h-5.6M45.5 175.03h5.6M371.2 175.03h-5.6M45.5 172.4h11.3M371.2 172.4h-11.3M45.5 155.09h5.6M371.2 155.09h-5.6M45.5 144.97h5.6M371.2 144.97h-5.6M45.5 137.78h5.6M371.2 137.78h-5.6M45.5 132.21h5.6M371.2 132.21h-5.6M45.5 127.66h5.6M371.2 127.66h-5.6M45.5 123.81h5.6M371.2 123.81h-5.6M45.5 120.47h5.6M371.2 120.47h-5.6M45.5 117.53h5.6M371.2 117.53h-5.6M45.5 114.9h11.3M371.2 114.9h-11.3M45.5 97.59h5.6M371.2 97.59h-5.6M45.5 87.47h5.6M371.2 87.47h-5.6M45.5 80.28h5.6M371.2 80.28h-5.6M45.5 74.71h5.6M371.2 74.71h-5.6M45.5 70.16h5.6M371.2 70.16h-5.6M45.5 66.31h5.6M371.2 66.31h-5.6M45.5 62.97h5.6M371.2 62.97h-5.6M45.5 60.03h5.6M371.2 60.03h-5.6M45.5 57.4h11.3M371.2 57.4h-11.3M45.5 40.09h5.6M371.2 40.09h-5.6M45.5 29.97h5.6M371.2 29.97h-5.6M45.5 22.78h5.6M371.2 22.78h-5.6M45.5 17.4v2.6M45.5 317.4v-2.6M45.5 317.4v2.6M45.5 477.6v-2.6M58.03 17.4v2.6M58.03 317.4v-2.6M58.03 317.4v2.6M58.03 477.6v-2.6M70.55 17.4v2.6M70.55 317.4v-2.6M70.55 317.4v2.6M70.55 477.6v-2.6M83.08 17.4v2.6M83.08 317.4v-2.6M83.08 317.4v2.6M83.08 477.6v-2.6M95.61 17.4v2.6M95.61 317.4v-2.6M95.61 317.4v2.6M95.61 477.6v-2.6M108.13 17.4v2.6M108.13 317.4v-2.6M108.13 317.4v2.6M108.13 477.6v-2.6M120.66 17.4v8.5M120.66 317.4v-8.5M120.66 317.4v5.5M120.66 477.6v-5.5M133.19 17.4v2.6M133.19 317.4v-2.6M133.19 317.4v2.6M133.19 477.6v-2.6M145.72 17.4v2.6M145.72 317.4v-2.6M145.72 317.4v2.6M145.72 477.6v-2.6M158.24 17.4v2.6M158.24 317.4v-2.6M158.24 317.4v2.6M158.24 477.6v-2.6M170.77 17.4v2.6M170.77 317.4v-2.6M170.77 317.4v2.6M170.77 477.6v-2.6M183.3 17.4v2.6M183.3 317.4v-2.6M183.3 317.4v2.6M183.3 477.6v-2.6M195.82 17.4v2.6M195.82 317.4v-2.6M195.82 317.4v2.6M195.82 477.6v-2.6M208.35 17.4v2.6M208.35 317.4v-2.6M208.35 317.4v2.6M208.35 477.6v-2.6M220.88 17.4v2.6M220.88 317.4v-2.6M220.88 317.4v2.6M220.88 477.6v-2.6M233.4 17.4v2.6M233.4 317.4v-2.6M233.4 317.4v2.6M233.4 477.6v-2.6M245.93 17.4v8.5M245.93 317.4v-8.5M245.93 317.4v5.5M245.93 477.6v-5.5M258.46 17.4v2.6M258.46 317.4v-2.6M258.46 317.4v2.6M258.46 477.6v-2.6M270.98 17.4v2.6M270.98 317.4v-2.6M270.98 317.4v2.6M270.98 477.6v-2.6M283.51 17.4v2.6M283.51 317.4v-2.6M283.51 317.4v2.6M283.51 477.6v-2.6M296.04 17.4v2.6M296.04 317.4v-2.6M296.04 317.4v2.6M296.04 477.6v-2.6M308.57 17.4v2.6M308.57 317.4v-2.6M308.57 317.4v2.6M308.57 477.6v-2.6M321.09 17.4v2.6M321.09 317.4v-2.6M321.09 317.4v2.6M321.09 477.6v-2.6M333.62 17.4v2.6M333.62 317.4v-2.6M333.62 317.4v2.6M333.62 477.6v-2.6M346.15 17.4v2.6M346.15 317.4v-2.6M346.15 317.4v2.6M346.15 477.6v-2.6M358.67 17.4v2.6M358.67 317.4v-2.6M358.67 317.4v2.6M358.67 477.6v-2.6M371.2 17.4v8.5M371.2 317.4v-8.5M371.2 317.4v5.5M371.2 477.6v-5.5M45.5 477.58h4.7M371.2 477.58h-4.7M45.5 458.1h7M371.2 458.1h-7M45.5 442.19h4.7M371.2 442.19h-4.7M45.5 428.73h4.7M371.2 428.73h-4.7M45.5 417.08h4.7M371.2 417.08h-4.7M45.5 406.8h4.7M371.2 406.8h-4.7M45.5 397.6h7M371.2 397.6h-7M45.5 389.28h4.7M371.2 389.28h-4.7M45.5 381.69h4.7M371.2 381.69h-4.7M45.5 374.7h4.7M371.2 374.7h-4.7M45.5 368.23h4.7M371.2 368.23h-4.7M45.5 362.21h4.7M371.2 362.21h-4.7M45.5 356.58h4.7M371.2 356.58h-4.7M45.5 351.29h4.7M371.2 351.29h-4.7M45.5 346.3h4.7M371.2 346.3h-4.7M45.5 341.58h4.7M371.2 341.58h-4.7M45.5 337.1h7M371.2 337.1h-7M45.5 332.84h4.7M371.2 332.84h-4.7M45.5 328.78h4.7M371.2 328.78h-4.7M45.5 324.9h4.7M371.2 324.9h-4.7M45.5 321.19h4.7M371.2 321.19h-4.7M45.5 317.62h4.7M371.2 317.62h-4.7" stroke="#000" stroke-width="0.9" fill="none"/>
<text x="52" y="13.8" font-size="12.15">13000 GeV pp</text>
<text x="366.3" y="13.8" font-size="12.1" text-anchor="end">Z (Drell-Yan)</text>
<g font-size="11" text-anchor="end">
<text x="40.8" y="62.3" textLength="12.6" lengthAdjust="spacingAndGlyphs">10</text>
<text x="39.8" y="118.9">1</text>
</g>
<text x="21.5" y="178.1" font-size="11" textLength="11.3" lengthAdjust="spacingAndGlyphs">10</text>
<text x="33.2" y="173.3" font-size="7" textLength="8" lengthAdjust="spacingAndGlyphs">−1</text>
<text x="19.3" y="235.6" font-size="11" textLength="11.3" lengthAdjust="spacingAndGlyphs">10</text>
<text x="31" y="230.8" font-size="7" textLength="8" lengthAdjust="spacingAndGlyphs">−2</text>
<text x="19.3" y="293.1" font-size="11" textLength="11.3" lengthAdjust="spacingAndGlyphs">10</text>
<text x="31" y="288.3" font-size="7" textLength="8" lengthAdjust="spacingAndGlyphs">−3</text>
<text x="38.6" y="341" font-size="12" text-anchor="end">2</text>
<text x="38" y="401.8" font-size="11" text-anchor="end">1</text>
<text x="37.8" y="462.2" font-size="11.5" text-anchor="end">0.5</text>
<text x="373.3" y="340.7" font-size="11.3">2</text>
<text x="373.3" y="402.8" font-size="11">1</text>
<text x="374" y="462.3" font-size="11.3">0.5</text>
<text x="120.2" y="488.8" font-size="11" text-anchor="middle">1</text>
<text x="246" y="488.9" font-size="11" text-anchor="middle">2</text>
<text x="371" y="488.6" font-size="11" text-anchor="middle">3</text>
<text x="289.5" y="501.4" font-size="11.7">Mean p<tspan font-size="8" dy="6.3">T</tspan><tspan dy="-6.3" font-size="12.3">/dη dϕ</tspan></text>
<text x="94.7" y="42.8" font-size="11.9">Away region, 10 &lt; p<tspan font-size="8" dy="-6.5" dx="0">Z</tspan><tspan font-size="8" dy="12.5" dx="-5">T</tspan><tspan dy="-6"> &lt; 20 [GeV], low thrust</tspan></text>
<g font-size="9.3">
<text x="94.5" y="65.2">ATLAS</text>
<text x="94.5" y="78.2">Pythia 8.315 default</text>
<text x="94.5" y="91.2">Pythia 8.315 tune-2c</text>
<text x="94.5" y="104.2">Pythia 8.315 tune-2m</text>
</g>
<rect x="73.6" y="59.5" width="6" height="6" fill="#000"/>
<line x1="64" y1="75.3" x2="89" y2="75.3" stroke="#4444ff" stroke-width="1"/>
<path d="M76.6 72.1L79.6 77.9L73.6 77.9Z" fill="#0000ff"/>
<line x1="64" y1="88.3" x2="89" y2="88.3" stroke="#e69b00" stroke-width="1" stroke-dasharray="2.7,1.8"/>
<circle cx="76.6" cy="88.3" r="2.5" fill="#e69b00"/>
<line x1="64" y1="101.2" x2="89" y2="101.2" stroke="#e69b00" stroke-width="1" stroke-dasharray="1.2,1.3"/>
<circle cx="76.6" cy="101.2" r="2.3" fill="none" stroke="#e69b00" stroke-width="0.95"/>
<text x="162.6" y="301.1" font-size="7.9" fill="#999">(ATLAS_2019_I1736531)</text>
<text transform="translate(15.1,164.5) rotate(-90)" font-size="11.8">1/N<tspan font-size="7.2" dy="3.2" dx="-0.3">ev</tspan><tspan dy="-3.2"> dN</tspan><tspan font-size="7.2" dy="3.2" dx="-0.3">ev</tspan><tspan dy="-3.2">/d mean p</tspan><tspan font-size="7.6" dy="5.6" dx="0.2">T</tspan><tspan dy="-5.6"> [GeV]</tspan><tspan font-size="8.2" dy="-6.4">1</tspan></text>
<text transform="translate(18.1,427.2) rotate(-90)" font-size="9.1">Ratio to ATLAS</text>
<text transform="translate(380.3,118.7) rotate(-90)" font-size="9.3" fill="#777">Rivet 4.1.0, ≥ 2M events</text>
<text transform="translate(380.6,313.1) rotate(-90)" font-size="9.35" fill="#777">mcplots.cern.ch [arXiv:1306.3436]</text>
</svg></body></html>
